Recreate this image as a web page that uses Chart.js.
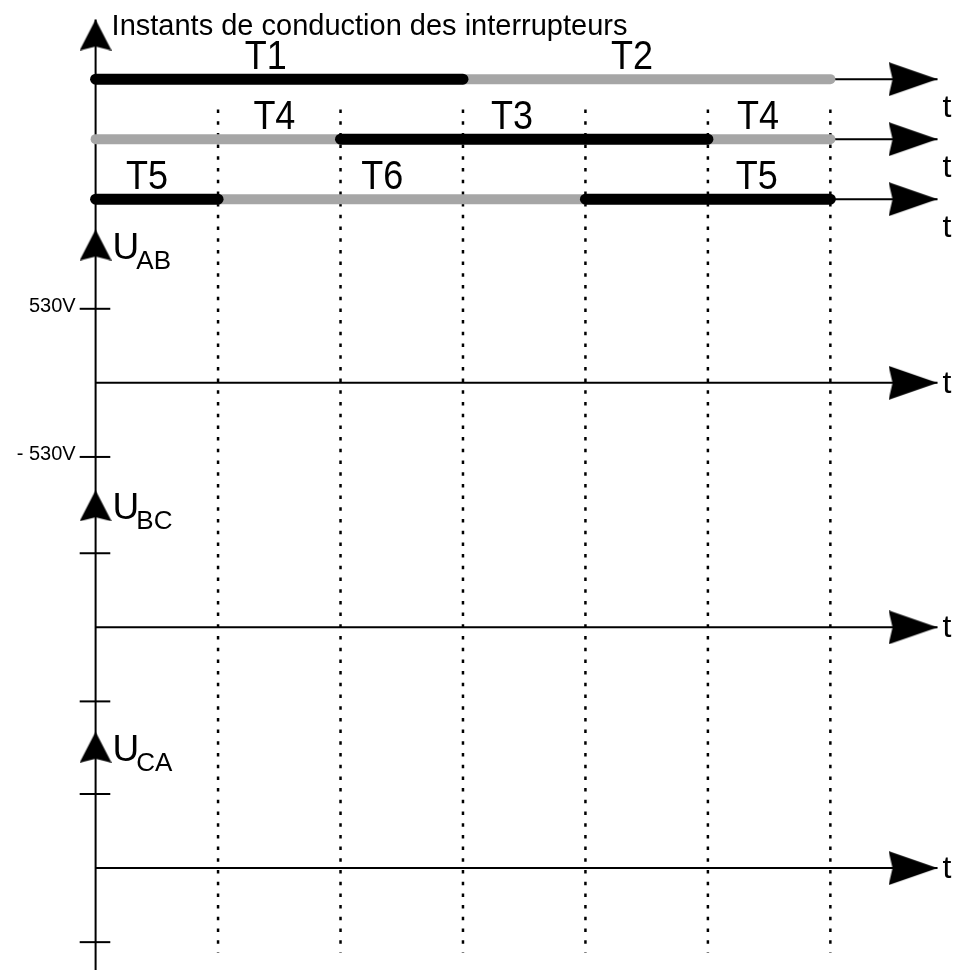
<!DOCTYPE html>
<html>
<head>
<meta charset="utf-8">
<script src="https://cdn.jsdelivr.net/npm/chart.js@4.4.1/dist/chart.umd.min.js"></script>
<style>
  body { margin: 0; background: #fff; }
  canvas { display: block; }
</style>
</head>
<body>
<canvas id="myChart" width="955" height="975"></canvas>
<script>
// time is counted in sixths of the period
var instants = [0, 1, 2, 3, 4, 5, 6];

// conduction of the switches, one row per leg
var row1Names = ["T1", "T2"];
var row1Edges = [0, 3, 6];
var row2Names = ["T4", "T3", "T4"];
var row2Edges = [0, 2, 5, 6];
var row3Names = ["T5", "T6", "T5"];
var row3Edges = [0, 1, 4, 6];

// line voltages (empty graphs to be filled in)
var voltNames = ["AB", "BC", "CA"];
var voltTicks = [530, -530];
var voltTickLabels = ["530V", "- 530V"];

var title = "Instants de conduction des interrupteurs";

// ---- layout (y in volts, 530V = one step) ----
var U = 530;
var rowLevel = [4.1 * U, 3.29 * U, 2.48 * U];
var sectionZero = [0, -3.3 * U, -6.55 * U];
var sectionTip = [2.07 * U, 1.85 * U, 1.84 * U];
var topTip = 4.905 * U;
var tEnd = 6.875;
var labelAt = [[1.39, 4.38], [1.46, 3.40, 5.41], [0.42, 2.34, 5.40]];

var rows = [
    { names: row1Names, edges: row1Edges },
    { names: row2Names, edges: row2Edges },
    { names: row3Names, edges: row3Edges },
];

var BLACK = "#000";
var GREY = "#a6a6a6";
var FONT = '"Liberation Sans", Arial, sans-serif';

function seg(x0, y0, x1, y1, color, width, order, extra) {
    return Object.assign({
        data: [{ x: x0, y: y0 }, { x: x1, y: y1 }],
        showLine: true,
        borderColor: color,
        borderWidth: width,
        pointRadius: 0,
        order: order,
    }, extra || {});
}

// arrow head, tip sits at the centre of the image
function arrowImg(len, wid) {
    var c = document.createElement("canvas");
    c.width = len * 2;
    c.height = wid;
    var g = c.getContext("2d");
    g.fillStyle = BLACK;
    g.beginPath();
    g.moveTo(0, 0);
    g.lineTo(len, wid / 2);
    g.lineTo(0, wid);
    g.lineTo(4, wid / 2);
    g.closePath();
    g.fill();
    return c;
}
var rightArrow = arrowImg(49, 34);
var upArrow = arrowImg(31, 32);

var datasets = [];

// dotted verticals at every switching instant
instants.slice(1).forEach(function (t) {
    datasets.push(seg(t, 3.69 * U, t, -7.69 * U, BLACK, 2.5, 6, { borderDash: [3.5, 8.2] }));
});

// main vertical axis
datasets.push(seg(0, topTip, 0, -8.2 * U, BLACK, 2, 5));

// thin time axes of the conduction rows
rowLevel.forEach(function (y) {
    datasets.push(seg(0, y, tEnd, y, BLACK, 2, 5));
});

// zero lines and ticks of the voltage graphs
sectionZero.forEach(function (z) {
    datasets.push(seg(0, z, tEnd, z, BLACK, 2, 5));
    voltTicks.forEach(function (v) {
        datasets.push(seg(-0.13, z + v, 0.12, z + v, BLACK, 2, 5));
    });
});

// conduction bars
rows.forEach(function (r, i) {
    r.names.forEach(function (n, k) {
        var upper = parseInt(n.slice(1)) % 2 == 1;
        datasets.push(seg(r.edges[k], rowLevel[i], r.edges[k + 1], rowLevel[i],
            upper ? BLACK : GREY, upper ? 11 : 10, upper ? 3 : 4, { borderCapStyle: "round" }));
    });
});

// arrows
var rightPts = rowLevel.concat(sectionZero).map(function (y) { return { x: tEnd, y: y }; });
datasets.push({ data: rightPts, pointStyle: rightArrow, pointRadius: 1, order: 1 });
var upPts = [{ x: 0, y: topTip }].concat(sectionZero.map(function (z, i) { return { x: 0, y: z + sectionTip[i] }; }));
datasets.push({ data: upPts, pointStyle: upArrow, pointRadius: 1, pointRotation: -90, order: 1 });

function tall(ctx, text, x, y, size, sy, align) {
    ctx.save();
    ctx.translate(x, y);
    ctx.scale(1, sy);
    ctx.font = size + "px " + FONT;
    ctx.textAlign = align;
    ctx.textBaseline = "alphabetic";
    ctx.fillText(text, 0, 0);
    ctx.restore();
}

var textPlugin = {
    id: "texts",
    afterDatasetsDraw: function (chart) {
        var ctx = chart.ctx;
        var px = function (v) { return chart.scales.x.getPixelForValue(v); };
        var py = function (v) { return chart.scales.y.getPixelForValue(v); };
        ctx.save();
        ctx.fillStyle = BLACK;

        tall(ctx, title, px(0) + 16, py(topTip) + 15, 29, 1, "left");

        rows.forEach(function (r, i) {
            r.names.forEach(function (n, k) {
                tall(ctx, n, px(labelAt[i][k]), py(rowLevel[i]) - 10, 36, 1.15, "center");
            });
            tall(ctx, "t", px(tEnd) + 5, py(rowLevel[i]) + 38, 32, 1, "left");
        });

        sectionZero.forEach(function (z, i) {
            tall(ctx, "t", px(tEnd) + 5, py(z) + 10, 32, 1, "left");
            var x = px(0) + 17, y = py(z + sectionTip[i]);
            ctx.font = "37px " + FONT;
            var w = ctx.measureText("U").width;
            tall(ctx, "U", x, y + 29, 37, 1, "left");
            tall(ctx, voltNames[i], x + w - 3, y + 39, 26, 1, "left");
        });

        ctx.font = "20px " + FONT;
        ctx.textAlign = "right";
        ctx.textBaseline = "middle";
        voltTicks.forEach(function (v, k) {
            ctx.fillText(voltTickLabels[k], px(0) - 20, py(v) - 2);
        });
        ctx.restore();
    }
};

// the line widths make Chart.js keep a 5.5px margin round the plot area
const myChart = new Chart(document.getElementById("myChart"), {
    type: "scatter",
    data: { datasets: datasets },
    options: {
        responsive: false,
        animation: false,
        devicePixelRatio: 1,
        events: [],
        layout: { padding: 0 },
        plugins: { legend: { display: false }, tooltip: { enabled: false } },
        scales: {
            x: { type: "linear", display: false, min: -0.7398, max: 6.977 },
            y: { type: "linear", display: false, min: -7.926 * U, max: 5.101 * U },
        },
    },
    plugins: [textPlugin],
});
</script>
</body>
</html>
